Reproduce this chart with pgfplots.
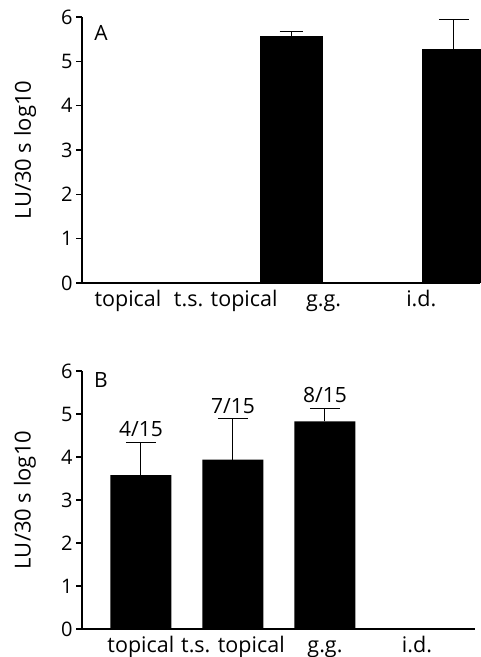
\documentclass[border=0pt]{standalone}
\usepackage{fontspec}
\setmainfont{Open Sans}
\usepackage{pgfplots}
\pgfplotsset{compat=1.18}
\begin{document}
\begin{tikzpicture}
\path[use as bounding box] (0bp,0bp) rectangle (481bp,657bp);
\pgfplotsset{
  panel/.style={
    scale only axis,
    axis lines=left,
    axis line style={-, line width=1.1bp, black},
    ymin=0, ymax=6, ytick={0,1,2,3,4,5,6},
    xtick={0,1,2,3},
    xticklabels={topical, t.s. topical, g.g., i.d.},
    x tick style={draw=none},
    y tick style={line width=1.1bp, black},
    tick align=outside,
    major tick length=6bp,
    font=\fontsize{22bp}{26bp}\selectfont,
    yticklabel style={font=\fontsize{20bp}{24bp}\selectfont},
    xticklabel style={font=\fontsize{21.5bp}{26bp}\selectfont, text height=15bp, text depth=4bp, inner sep=2bp},
    /pgf/number format/assume math mode=true,
    ylabel={LU/30 s log10},
    ybar,
    clip=false,
  },
  bars/.style={fill=black, draw=none,
    error bars/.cd, y dir=plus, y explicit,
    error mark=|,
    error bar style={line width=1bp, black},
    error mark options={line width=1bp, black, mark size=#1},
  },
}
% Panel A
\begin{axis}[panel,
  at={(82bp,374bp)}, anchor=south west,
  width=398bp, height=266bp,
  xmin=-0.47, xmax=3.6,
  bar width=63bp,
  every axis y label/.style={at={(axis description cs:-0.143,0.5)}, rotate=90, anchor=center},
]
\addplot[bars=11.5bp] coordinates {(2,5.58) +- (0,0.09)};
\addplot[bars=15bp] coordinates {(3,5.28) +- (0,0.67)};
\node[anchor=center, font=\fontsize{21bp}{24bp}\selectfont] at (axis description cs:0.048,0.94) {A};
\end{axis}
% Panel B
\begin{axis}[panel,
  at={(82bp,28bp)}, anchor=south west,
  width=393bp, height=258bp,
  xmin=-0.64, xmax=3.63,
  bar width=61bp,
  every axis y label/.style={at={(axis description cs:-0.145,0.5)}, rotate=90, anchor=center},
]
\addplot[bars=15bp] coordinates {(0,3.58) +- (0,0.76) (1,3.94) +- (0,0.95) (2,4.83) +- (0,0.30)};
\node[anchor=south, yshift=2bp, font=\fontsize{21bp}{24bp}\selectfont] at (axis cs:0,4.34) {4/15};
\node[anchor=south, yshift=2bp, font=\fontsize{21bp}{24bp}\selectfont] at (axis cs:1,4.89) {7/15};
\node[anchor=south, yshift=2bp, font=\fontsize{21bp}{24bp}\selectfont] at (axis cs:2,5.13) {8/15};
\node[anchor=center, font=\fontsize{21bp}{24bp}\selectfont] at (axis description cs:0.048,0.965) {B};
\end{axis}
\end{tikzpicture}
\end{document}
